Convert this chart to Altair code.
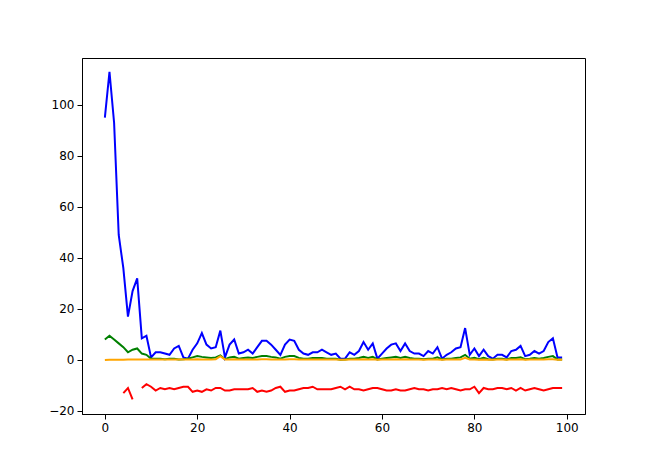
import altair as alt
import pandas as pd

x_values = list(range(100))

blue = [95, 113, 93, 49, 36, 17, 27, 32, 8.5, 9.5,
        1, 3, 3, 2.5, 2, 4.5, 5.5, 1, 0.5, 4,
        6.5, 10.5, 6, 4.5, 5, 11.5, 1, 6, 8, 2.5,
        3, 4, 2.5, 5, 7.5, 7.5, 6, 4, 2, 6,
        8, 7.5, 4, 2.5, 2, 3, 3, 4, 3, 2,
        2.5, 0.5, 0.5, 3, 2, 3.5, 7, 4, 6.5, 0.5,
        2.5, 4.5, 6, 6.5, 3.5, 6.5, 3.5, 2.5, 2.5, 1.5,
        3.5, 2.5, 5, 0.5, 2, 3, 4.5, 5, 12.5, 2,
        4.5, 1.5, 4, 1.5, 0.5, 2, 2, 1, 3.5, 4,
        5.5, 1.5, 2, 3.5, 2.5, 3.5, 7, 8.5, 1, 1]

green = [8, 9.5, 8, 6.5, 5, 3, 4, 4.5, 2.5, 2,
         0.5, 0.5, 0.5, 0.3, 0.5, 0.5, 0.2, 0.3, 0.5, 1,
         1.5, 1.2, 1, 0.8, 1, 1.8, 0.3, 1, 1.2, 0.5,
         0.8, 1, 0.8, 1.2, 1.5, 1.5, 1.2, 1, 0.5, 1.2,
         1.5, 1.5, 0.8, 0.5, 0.5, 0.8, 0.8, 0.8, 0.5, 0.5,
         0.5, 0.1, 0.2, 0.5, 0.5, 0.8, 1.2, 0.8, 1.2, 0.2,
         0.5, 0.8, 1, 1.2, 0.8, 1.2, 0.8, 0.5, 0.5, 0.3,
         0.5, 0.5, 1, 0.2, 0.5, 0.5, 0.8, 1, 2, 0.5,
         0.8, 0.3, 0.8, 0.3, 0.2, 0.5, 0.5, 0.2, 0.8, 0.8,
         1, 0.3, 0.5, 0.8, 0.5, 0.8, 1.2, 1.5, 0.2, 0.2]

orange = [0, 0.1, 0.1, 0.1, 0.1, 0.2, 0.2, 0.2, 0.2, 0.2,
          0.2, 0.2, 0.2, 0.2, 0.2, 0.2, 0.2, 0.2, 0.2, 0.2,
          0.3, 0.2, 0.2, 0.2, 0.3, 1.5, 0.2, 0.2, 0.3, 0.2,
          0.2, 0.2, 0.2, 0.2, 0.3, 0.3, 0.2, 0.2, 0.2, 0.2,
          0.3, 0.3, 0.2, 0.2, 0.2, 0.2, 0.2, 0.2, 0.2, 0.2,
          0.2, 0.1, 0.1, 0.2, 0.2, 0.2, 0.3, 0.2, 0.3, 0.1,
          0.2, 0.2, 0.2, 0.3, 0.2, 0.3, 0.2, 0.2, 0.2, 0.1,
          0.2, 0.2, 0.2, 0.1, 0.2, 0.2, 0.2, 0.2, 0.8, 0.2,
          0.2, 0.1, 0.2, 0.1, 0.1, 0.2, 0.2, 0.1, 0.2, 0.2,
          0.3, 0.1, 0.2, 0.2, 0.2, 0.2, 0.3, 0.3, 0.1, 0.1]

red = [None, None, None, None, -13, -11, -15.5, None, -11, -9.5,
       -10.5, -12, -11, -11.5, -11, -11.5, -11, -10.5, -10.5, -12.5,
       -12, -12.5, -11.5, -12, -11, -11, -12, -12, -11.5, -11.5,
       -11.5, -11.5, -11, -12.5, -12, -12.5, -12, -11, -10.5, -12.5,
       -12, -12, -11.5, -11, -11, -10.5, -11.5, -11.5, -11.5, -11.5,
       -11, -10.5, -11.5, -10.5, -11.5, -11.5, -12, -11.5, -11, -11,
       -11.5, -12, -12, -11.5, -12, -12, -11.5, -11, -11.5, -11.5,
       -12, -11.5, -11.5, -11, -11.5, -11, -11.5, -12, -11.5, -11.5,
       -10.5, -13, -11, -11.5, -11.5, -11, -11, -11.5, -11, -12,
       -11, -12, -11.5, -11, -11.5, -12, -11.5, -11, -11, -11]

series_names = ["blue", "green", "orange", "red"]
series_colors = ["#0000ff", "#008000", "#ffa500", "#ff0000"]
series_data = [blue, green, orange, red]

rows = []
for order, (name, vals) in enumerate(zip(series_names, series_data)):
    seg = 0
    prev_none = False
    for xv, v in zip(x_values, vals):
        if v is None:
            prev_none = True
            continue
        if prev_none:
            seg += 1
            prev_none = False
        rows.append({"x": xv, "y": v, "series": name, "seg": f"{name}-{seg}", "order": order})
df = pd.DataFrame(rows)

axis_style = dict(title=None, grid=False, tickSize=5, labelFontSize=12, labelColor="black",
                  domainColor="black", tickColor="black", labelPadding=3,
                  labelFont="DejaVu Sans")

chart = alt.Chart(df).mark_line(strokeWidth=2).encode(
    x=alt.X("x:Q", scale=alt.Scale(domain=[-4.95, 103.95], nice=False, zero=False),
            axis=alt.Axis(values=[0, 20, 40, 60, 80, 100], **axis_style)),
    y=alt.Y("y:Q", scale=alt.Scale(domain=[-21.2, 118.4], nice=False, zero=False),
            axis=alt.Axis(values=[-20, 0, 20, 40, 60, 80, 100], **axis_style)),
    color=alt.Color("series:N", scale=alt.Scale(domain=series_names, range=series_colors), legend=None),
    detail="seg:N",
    order=alt.Order("x:Q"),
).properties(
    width=503,
    height=356,
    background="white",
    autosize=alt.AutoSizeParams(type="none"),
    padding={"left": 74, "top": 50, "right": 50, "bottom": 50},
).configure_view(
    stroke="black", strokeWidth=1
)

chart.save("out.html", embed_options={"renderer": "svg", "actions": False})
